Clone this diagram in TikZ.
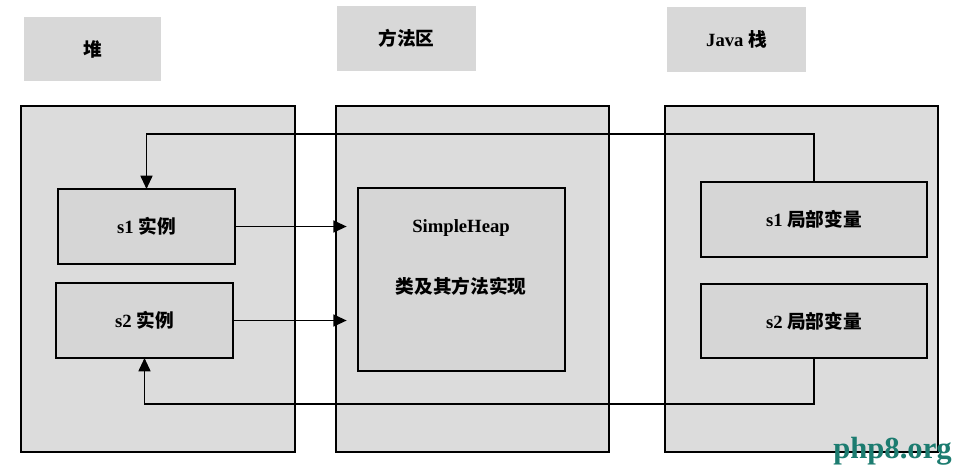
\documentclass[tikz,border=0pt]{standalone}
\usepackage{fontspec}
\setmainfont{Liberation Serif}
\newfontfamily\cjk{Noto Sans CJK SC}
\usetikzlibrary{arrows.meta}
\definecolor{labgray}{RGB}{216,216,216}
\definecolor{panelgray}{RGB}{220,220,220}
\definecolor{boxgray}{RGB}{214,214,214}
\definecolor{wmteal}{RGB}{28,124,112}
\newcommand\zhtxt[1]{{\cjk\bfseries #1}}
\begin{document}
\begin{tikzpicture}[x=0.75pt,y=-0.75pt,
  lab/.style={fill=labgray,draw=none,inner sep=0pt,outer sep=0pt,anchor=north west,font=\fontsize{14}{16}\selectfont},
  panel/.style={fill=panelgray,draw=black,line width=1.4pt,inner sep=0pt,outer sep=0pt,anchor=north west},
  inbox/.style={fill=boxgray,draw=black,line width=1.4pt,inner sep=0pt,outer sep=0pt,anchor=north west,font=\fontsize{14}{16}\selectfont},
  txt/.style={inner sep=0pt,font=\fontsize{14}{16}\selectfont},
  conn/.style={line width=1.3pt,-{Triangle[length=10pt,width=9pt]}}]
\fill[white] (0,0) rectangle (961,468);
\useasboundingbox (0,0) rectangle (961,468);
% header labels
\node[lab,minimum width=102.75pt,minimum height=48pt] (heapL) at (24,17) {\zhtxt{堆}};
\node[lab,minimum width=104.25pt,minimum height=48.75pt] (methL) at (337,6) {\zhtxt{方法区}};
\node[lab,minimum width=104.25pt,minimum height=48.75pt] (stackL) at (667,7) {\textbf{Java} \zhtxt{栈}};
% panels
\node[panel,minimum width=205.5pt,minimum height=259.5pt] (heapP) at (21,106) {};
\node[panel,minimum width=204.75pt,minimum height=259.5pt] (methP) at (336,106) {};
\node[panel,minimum width=204.75pt,minimum height=259.5pt] (stackP) at (665,106) {};
% inner boxes
\node[inbox,minimum width=132.75pt,minimum height=56.25pt] (s1i) at (58,189) {\textbf{s1} \zhtxt{实例}};
\node[inbox,minimum width=132.75pt,minimum height=56.25pt] (s2i) at (56,283) {\textbf{s2} \zhtxt{实例}};
\node[inbox,minimum width=155.25pt,minimum height=137.25pt] (sh) at (358,188) {};
\node[txt] (shname) at (461,228) {\textbf{SimpleHeap}};
\node[txt] (shdesc) at (461,286) {\zhtxt{类及其方法实现}};
\node[inbox,minimum width=169.5pt,minimum height=56.25pt] (s1v) at (701,182) {\textbf{s1} \zhtxt{局部变量}};
\node[inbox,minimum width=169.5pt,minimum height=55.5pt] (s2v) at (701,284) {\textbf{s2} \zhtxt{局部变量}};
% connectors
\coordinate (topy) at (0,134);
\coordinate (boty) at (0,404);
\draw[conn] (s1v.north) -- (s1v.north |- topy) -- (s1i.north |- topy) -- (s1i.north);
\draw[conn] (s2v.south) -- (s2v.south |- boty) -- (s2i.south |- boty) -- (s2i.south);
\draw[conn] (s1i.east) -- ([xshift=8]s1i.east -| methP.west);
\draw[conn] (s2i.east) -- ([xshift=8]s2i.east -| methP.west);
% watermark
\node[inner sep=0pt,anchor=south east,text=wmteal,font=\fontsize{23}{25}\selectfont\bfseries] (wm) at (952,466) {php8.org};
\end{tikzpicture}
\end{document}
